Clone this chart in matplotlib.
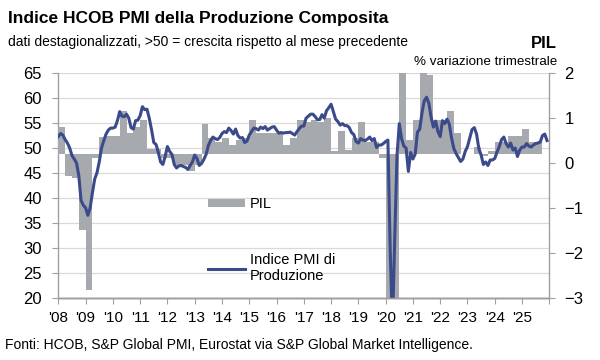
import numpy as np
import matplotlib
matplotlib.use("Agg")
import matplotlib.pyplot as plt

plt.rcParams["font.family"] = ["Liberation Sans", "DejaVu Sans"]

# Indice PMI composito (mensile, gen 2008 - dic 2025)
pmi = [
    52.3, 52.9, 52.6, 51.7, 51.0, 50.0, 48.5, 47.8, 47.0, 44.5, 39.5, 38.5,  # 2008
    38.0, 36.5, 38.0, 41.0, 43.8, 45.0, 47.2, 50.0, 51.5, 52.8, 53.6, 54.0,  # 2009
    54.0, 54.2, 55.5, 57.3, 56.4, 56.3, 56.8, 56.0, 54.1, 53.8, 55.5, 55.6,  # 2010
    56.5, 58.3, 57.7, 57.8, 56.0, 53.7, 51.1, 50.7, 49.1, 47.2, 46.7, 48.3,  # 2011
    50.3, 49.3, 48.7, 46.7, 46.0, 46.4, 46.5, 46.3, 46.1, 45.7, 46.5, 47.2,  # 2012
    48.6, 47.9, 46.5, 46.9, 47.7, 48.7, 50.5, 51.5, 52.2, 51.9, 51.7, 52.1,  # 2013
    52.9, 53.3, 53.1, 54.0, 53.5, 52.8, 53.8, 52.5, 52.0, 52.1, 51.1, 51.4,  # 2014
    52.6, 53.3, 54.0, 53.9, 53.6, 54.2, 53.9, 54.3, 53.6, 53.9, 54.2, 54.3,  # 2015
    53.6, 53.0, 53.1, 53.0, 53.1, 53.1, 53.2, 52.9, 52.6, 53.3, 53.9, 54.4,  # 2016
    54.4, 56.0, 56.4, 56.8, 56.8, 56.3, 55.7, 55.7, 56.7, 56.0, 57.5, 58.1,  # 2017
    58.8, 57.3, 55.8, 55.3, 54.6, 54.9, 54.5, 54.5, 54.1, 53.1, 52.7, 51.3,  # 2018
    51.0, 51.9, 51.6, 51.5, 51.8, 52.2, 51.5, 51.9, 50.1, 50.6, 50.6, 50.9,  # 2019
    51.3, 51.6, 29.7, 13.6, 31.9, 48.5, 54.9, 51.9, 50.4, 50.0, 45.3, 49.1,  # 2020
    47.8, 48.8, 53.2, 53.8, 57.1, 59.5, 60.2, 59.0, 56.2, 54.2, 55.4, 53.3,  # 2021
    52.3, 55.5, 54.9, 55.8, 54.8, 52.0, 49.9, 48.9, 48.1, 47.3, 47.8, 49.3,  # 2022
    50.3, 52.0, 53.7, 54.1, 52.8, 49.9, 48.6, 46.7, 47.2, 46.5, 47.6, 47.6,  # 2023
    47.9, 49.2, 50.3, 51.7, 52.2, 50.9, 50.2, 51.0, 49.6, 50.0, 48.3, 49.6,  # 2024
    50.2, 50.2, 50.9, 50.4, 50.2, 50.6, 50.9, 51.0, 51.2, 52.5, 52.8, 51.5,  # 2025
]

# PIL, % variazione trimestrale (T1 2008 - T3 2025)
pil = [
    0.6, -0.5, -0.55, -1.7,    # 2008
    -3.05, -0.1, 0.37, 0.4,    # 2009
    0.4, 0.95, 0.45, 0.6,      # 2010
    0.75, 0.1, 0.1, -0.1,      # 2011
    -0.1, -0.25, -0.25, -0.4,  # 2012
    -0.25, 0.65, 0.35, 0.25,   # 2013
    0.35, 0.2, 0.3, 0.35,      # 2014
    0.75, 0.45, 0.45, 0.45,    # 2015
    0.45, 0.2, 0.35, 0.75,     # 2016
    0.7, 0.75, 0.7, 0.8,       # 2017
    0.05, 0.5, 0.07, 0.35,     # 2018
    0.7, 0.25, 0.25, -0.1,     # 2019
    -3.5, -11.5, 12.5, 0.3,    # 2020
    0.75, 2.2, 1.75, 0.75,     # 2021
    0.75, 0.95, 0.45, 0.0,     # 2022
    0.0, 0.15, -0.05, 0.05,    # 2023
    0.25, 0.25, 0.4, 0.4,      # 2024
    0.55, 0.25, 0.25,          # 2025
]

years = list(range(2008, 2027))
year_labels = ["'%02d" % (y % 100) for y in range(2008, 2026)] + [""]
left_ticks = [20, 25, 30, 35, 40, 45, 50, 55, 60, 65]
right_ticks = [-3, -2, -1, 0, 1, 2]

LINE_COL = "#3b4a8b"
BAR_COL = "#a6a9ad"
AXIS_COL = "#a0a0a0"
BAR_BASE = 0.21  # the bars' zero sits slightly above the 0 label in the original

t_month = 2008 + np.arange(len(pmi)) / 12.0
t_quarter = 2008 + np.arange(len(pil)) / 4.0

fig = plt.figure(figsize=(6, 3.6), dpi=100)
ax = fig.add_axes([0.0972, 0.1736, 0.8183, 0.6228])
axr = ax.twinx()
axl = ax.twinx()

# gridlines on the bottom layer
ax.set_ylim(20, 65)
ax.set_yticks(left_ticks)
ax.yaxis.grid(True, color="#d9d9d9", linewidth=0.9)
ax.set_axisbelow(True)
ax.set_xlim(2008, 2026)
ax.set_xticks(years)
ax.set_xticklabels(year_labels)
ax.tick_params(axis="x", direction="out", length=4, color=AXIS_COL, pad=6, labelsize=11)
ax.tick_params(axis="y", direction="out", length=4, color=AXIS_COL, pad=8, labelsize=12)

# bars on the right scale
axr.bar(t_quarter, pil, width=0.25, align="edge", bottom=BAR_BASE,
        color=BAR_COL, linewidth=0, label="PIL")
axr.set_ylim(-3, 2)
axr.set_yticks(right_ticks)
axr.tick_params(axis="y", direction="out", length=4, color=AXIS_COL, pad=7, labelsize=12)

# PMI line on top
axl.plot(t_month, pmi, color=LINE_COL, linewidth=2.2, label="Indice PMI di\nProduzione",
         solid_joinstyle="round")
axl.set_ylim(20, 65)
axl.set_yticks([])

for a in (ax, axr, axl):
    a.spines["top"].set_visible(False)
    for s in ("left", "right", "bottom"):
        a.spines[s].set_color(AXIS_COL)
        a.spines[s].set_linewidth(1.0)
axl.spines["left"].set_visible(False)
axl.spines["right"].set_visible(False)
axr.spines["left"].set_visible(False)
ax.spines["right"].set_visible(False)

leg1 = axl.legend(*axr.get_legend_handles_labels(), loc="center left",
                  bbox_to_anchor=(0.305, 0.417), frameon=False, fontsize=10.5,
                  handlelength=2.5, handleheight=0.5, handletextpad=0.35,
                  borderpad=0, borderaxespad=0)
axl.add_artist(leg1)
axl.legend(loc="center left", bbox_to_anchor=(0.305, 0.13), frameon=False,
           fontsize=10.5, handlelength=2.5, handletextpad=0.35, borderpad=0,
           borderaxespad=0, labelspacing=0.2)

fig.text(0.013, 0.95, "Indice HCOB PMI della Produzione Composita",
         fontsize=12.5, fontweight="bold", va="center", ha="left")
fig.text(0.013, 0.883, "dati destagionalizzati, >50 = crescita rispetto al mese precedente",
         fontsize=10, va="center", ha="left")
fig.text(0.928, 0.88, "PIL", fontsize=12, fontweight="bold", va="center", ha="right")
fig.text(0.928, 0.828, "% variazione trimestrale", fontsize=9.6, va="center", ha="right")
fig.text(0.008, 0.042, "Fonti: HCOB, S&P Global PMI, Eurostat via S&P Global Market Intelligence.",
         fontsize=10, va="center", ha="left")

fig.savefig("out.png", dpi=100)
